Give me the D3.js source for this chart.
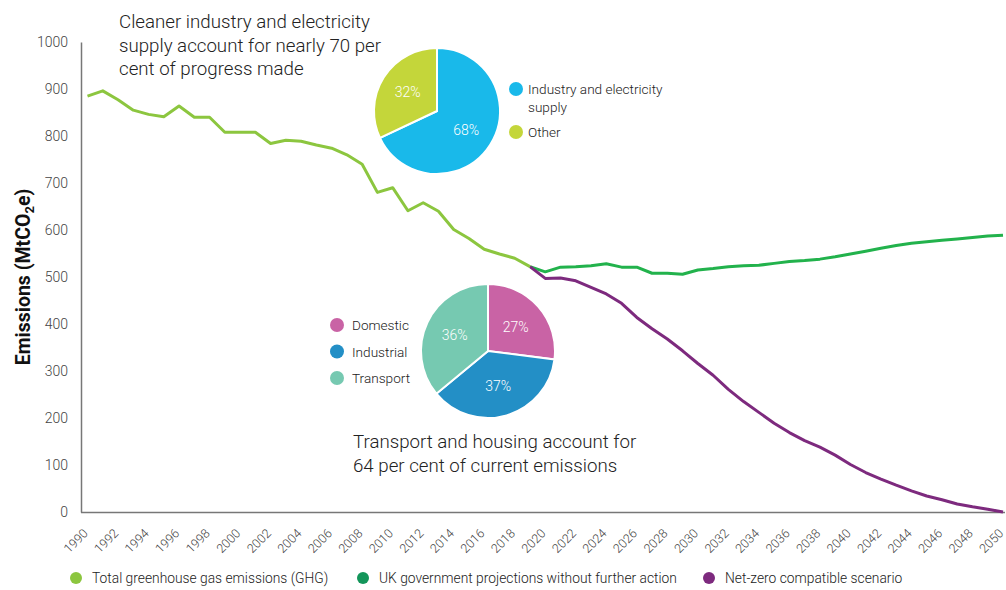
<!DOCTYPE html>
<html><head><meta charset="utf-8">
<script src="https://cdn.jsdelivr.net/npm/d3@7"></script>
<style>
html,body{margin:0;padding:0;background:#fff;}
svg{display:block;}
text{font-family:Roboto,"Noto Sans",sans-serif;}
</style></head>
<body>
<svg id="c" width="1006" height="590"></svg>
<script>
const ghgYears = d3.range(1990, 2020);
const ghgValues = [885, 896, 877, 855, 846, 841, 864, 840, 840, 808, 808, 808, 784, 791, 789, 781, 774, 760, 740, 680, 690, 641, 658, 640, 601, 582, 559, 549, 540, 522];
const projYears = d3.range(2019, 2051);
const projValues = [522, 511, 521, 522, 524, 528, 521, 521, 508, 508, 506, 515, 518, 522, 524, 525, 529, 533, 535, 538, 543, 549, 555, 561, 567, 572, 575, 578, 581, 584, 587, 589];
const netZeroValues = [522, 497, 498, 492, 478, 464, 444, 414, 390, 368, 343, 316, 291, 261, 235, 212, 189, 169, 152, 138, 121, 101, 84, 70, 57, 45, 34, 26, 17, 11, 6, 0];
const yTicks = [0, 100, 200, 300, 400, 500, 600, 700, 800, 900, 1000];
const xTicks = d3.range(1990, 2051, 2);

const progressLabels = ["Industry and electricity supply", "Other"];
const progressValues = [68, 32];
const currentLabels = ["Domestic", "Industrial", "Transport"];
const currentValues = [27, 37, 36];

const seriesNames = ["Total greenhouse gas emissions (GHG)", "UK government projections without further action", "Net-zero compatible scenario"];

const svg = d3.select("#c");
const x = d3.scaleLinear().domain([1990, 2050]).range([87.5, 1003]);
const y = d3.scaleLinear().domain([0, 1000]).range([512, 42]);

// axes
const yAxis = svg.append("g").attr("transform", "translate(81,0)")
  .call(d3.axisLeft(y).tickValues(yTicks).tickSize(0).tickPadding(13).tickFormat(d3.format("d")));
yAxis.select(".domain").attr("stroke", "#777").attr("stroke-width", 1.5);
yAxis.selectAll("text").attr("font-size", 14).attr("fill", "#444").attr("font-weight", 300).attr("font-family", "Roboto");

const xAxis = svg.append("g").attr("transform", "translate(0,512)")
  .call(d3.axisBottom(x).tickValues(xTicks).tickSize(0).tickFormat(d3.format("d")));
xAxis.select(".domain").attr("d", "M81,0.5H1005").attr("stroke", "#777").attr("stroke-width", 1.5);
xAxis.selectAll("text")
  .attr("font-size", 12.5).attr("fill", "#444").attr("font-weight", 300)
  .attr("text-anchor", "end").attr("dy", null).attr("y", null)
  .attr("transform", "translate(-2.5,19) rotate(-45)")
  .attr("dominant-baseline", "central");

svg.append("text").attr("transform", "translate(30,277) rotate(-90)")
  .attr("text-anchor", "middle").attr("font-size", 19.5).attr("font-weight", 700)
  .attr("fill", "#111").attr("font-family", "Roboto")
  .html('Emissions (MtCO<tspan font-size="13" dy="4">2</tspan><tspan dy="-4">e)</tspan>');

// lines
const line = d3.line().x(d => x(d[0])).y(d => y(d[1]));
svg.append("path").datum(projYears.map((yr, i) => [yr, projValues[i]]))
  .attr("d", line).attr("fill", "none").attr("stroke", "#22b24c").attr("stroke-width", 3).attr("stroke-linejoin", "round");
svg.append("path").datum(projYears.map((yr, i) => [yr, netZeroValues[i]]))
  .attr("d", line).attr("fill", "none").attr("stroke", "#7d2a7e").attr("stroke-width", 3).attr("stroke-linejoin", "round");
svg.append("path").datum(ghgYears.map((yr, i) => [yr, ghgValues[i]]))
  .attr("d", line).attr("fill", "none").attr("stroke", "#8cc63f").attr("stroke-width", 3).attr("stroke-linejoin", "round");

// pies
const pie = d3.pie().sort(null).value(d => d);
function drawPie(cx, cy, r, values, colors, labelPos) {
  const g = svg.append("g").attr("transform", `translate(${cx},${cy})`);
  const arc = d3.arc().innerRadius(0).outerRadius(r);
  const larc = d3.arc().innerRadius(r * labelPos).outerRadius(r * labelPos);
  const arcs = pie(values);
  g.selectAll("path").data(arcs).join("path").attr("d", arc)
    .attr("fill", (d, i) => colors[i]).attr("stroke", "#fff").attr("stroke-width", 2);
  g.selectAll("text").data(arcs).join("text")
    .attr("transform", d => `translate(${larc.centroid(d)})`)
    .attr("text-anchor", "middle").attr("dominant-baseline", "central")
    .attr("font-size", 14).attr("font-weight", 300).attr("fill", "#fff")
    .text(d => d.data + "%");
}
const progressColors = ["#19b9ea", "#c4d63a"];
const currentColors = ["#c963a5", "#238fc6", "#76c9b1"];
drawPie(437, 111, 63, progressValues, progressColors, 0.55);
drawPie(488, 351, 67, currentValues, currentColors, 0.55);

// pie legends
const leg1 = svg.append("g");
leg1.append("circle").attr("cx", 516).attr("cy", 89).attr("r", 7).attr("fill", progressColors[0]);
leg1.append("text").attr("x", 528).attr("y", 89).attr("dominant-baseline", "central")
  .attr("font-size", 13.6).attr("font-weight", 300).attr("fill", "#222")
  .selectAll("tspan").data(["Industry and electricity", "supply"]).join("tspan")
  .attr("x", 528).attr("dy", (d, i) => i ? 18 : 0).text(d => d);
leg1.append("circle").attr("cx", 516).attr("cy", 132).attr("r", 7).attr("fill", progressColors[1]);
leg1.append("text").attr("x", 528).attr("y", 132).attr("dominant-baseline", "central")
  .attr("font-size", 13.6).attr("font-weight", 300).attr("fill", "#222").text(progressLabels[1]);

const leg2 = svg.append("g").selectAll("g").data(currentLabels).join("g")
  .attr("transform", (d, i) => `translate(337,${325 + i * 26.5})`);
leg2.append("circle").attr("r", 7).attr("fill", (d, i) => currentColors[i]);
leg2.append("text").attr("x", 15).attr("dominant-baseline", "central")
  .attr("font-size", 13.6).attr("font-weight", 300).attr("fill", "#222").text(d => d);

// annotations
function multiline(xp, yp, lines, lh) {
  svg.append("text").attr("font-size", 18.7).attr("font-weight", 300).attr("fill", "#222")
    .selectAll("tspan").data(lines).join("tspan")
    .attr("x", xp).attr("y", (d, i) => yp + i * lh).text(d => d);
}
multiline(119, 28, ["Cleaner industry and electricity", "supply account for nearly 70 per", "cent of progress made"], 23.5);
multiline(353, 448, ["Transport and housing account for", "64 per cent of current emissions"], 24);

// bottom legend
const legColors = ["#8cc63f", "#13955a", "#7d2a7e"];
const legX = [76, 363, 709];
const lg = svg.append("g").selectAll("g").data(seriesNames).join("g")
  .attr("transform", (d, i) => `translate(${legX[i]},578)`);
lg.append("circle").attr("r", 6).attr("fill", (d, i) => legColors[i]);
lg.append("text").attr("x", 16).attr("dominant-baseline", "central")
  .attr("font-size", 13.8).attr("font-weight", 300).attr("fill", "#222").text(d => d);
</script>
</body></html>
